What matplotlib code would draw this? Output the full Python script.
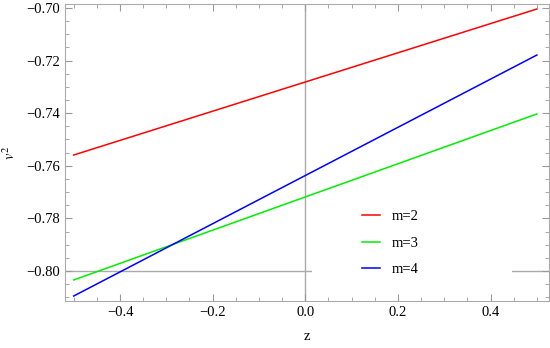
import matplotlib
matplotlib.use("Agg")
import matplotlib.pyplot as plt
import numpy as np
from matplotlib.ticker import MultipleLocator
from matplotlib.patches import Rectangle

plt.rcParams['font.family'] = ['Liberation Serif', 'DejaVu Serif']
plt.rcParams['mathtext.fontset'] = 'stix'

z = [-0.5, 0.5]
labels = ["m=2", "m=3", "m=4"]
series = {
    "m=2": [-0.7559, -0.7004],
    "m=3": [-0.8034, -0.7403],
    "m=4": [-0.8095, -0.7179],
}
colors = {"m=2": "#ff0000", "m=3": "#00ee00", "m=4": "#0000ff"}

fig = plt.figure(figsize=(5.5, 3.48), dpi=100)
ax = fig.add_axes([0.118, 0.135, 0.880, 0.8535])

ax.axhline(-0.80, color="#aaaaaa", lw=1, zorder=1)
ax.axvline(0.0, color="#aaaaaa", lw=1, zorder=1)

for lab in labels:
    ax.plot(z, series[lab], color=colors[lab], lw=1.1, label=lab, zorder=3)

ax.set_xlim(-0.519, 0.526)
ax.set_ylim(-0.8114, -0.6985)
ax.xaxis.set_major_locator(MultipleLocator(0.2))
ax.xaxis.set_minor_locator(MultipleLocator(0.05))
ax.yaxis.set_major_locator(MultipleLocator(0.02))
ax.yaxis.set_minor_locator(MultipleLocator(0.005))
ax.xaxis.set_major_formatter(matplotlib.ticker.FuncFormatter(lambda v, p: f"{v:.1f}".replace("-", "\u2212")))
ax.yaxis.set_major_formatter(matplotlib.ticker.FuncFormatter(lambda v, p: f"{v:.2f}".replace("-", "\u2212")))

ax.tick_params(which="both", direction="in", top=True, right=True, color="#999999", labelsize=10.5)
ax.tick_params(which="major", length=5)
ax.tick_params(which="minor", length=3)
for s in ax.spines.values():
    s.set_color("#aaaaaa")

ax.set_xlabel("z", fontsize=10.5, labelpad=8)
ax.set_ylabel(r"$v^2$", fontsize=10.5, labelpad=6)

# white background panel behind legend (covers axis line)
ax.add_patch(Rectangle((0.5105, 0.054), 0.4135, 0.29, transform=ax.transAxes,
                       facecolor="white", edgecolor="none", zorder=4))

leg = ax.legend(loc="center left", bbox_to_anchor=(0.614, 0.195), frameon=False, fontsize=10.5,
                handlelength=1.25, handletextpad=0.8, labelspacing=0.92, borderpad=0.0,
                borderaxespad=0.0)
leg.set_zorder(5)

fig.savefig("out.png", dpi=100)
